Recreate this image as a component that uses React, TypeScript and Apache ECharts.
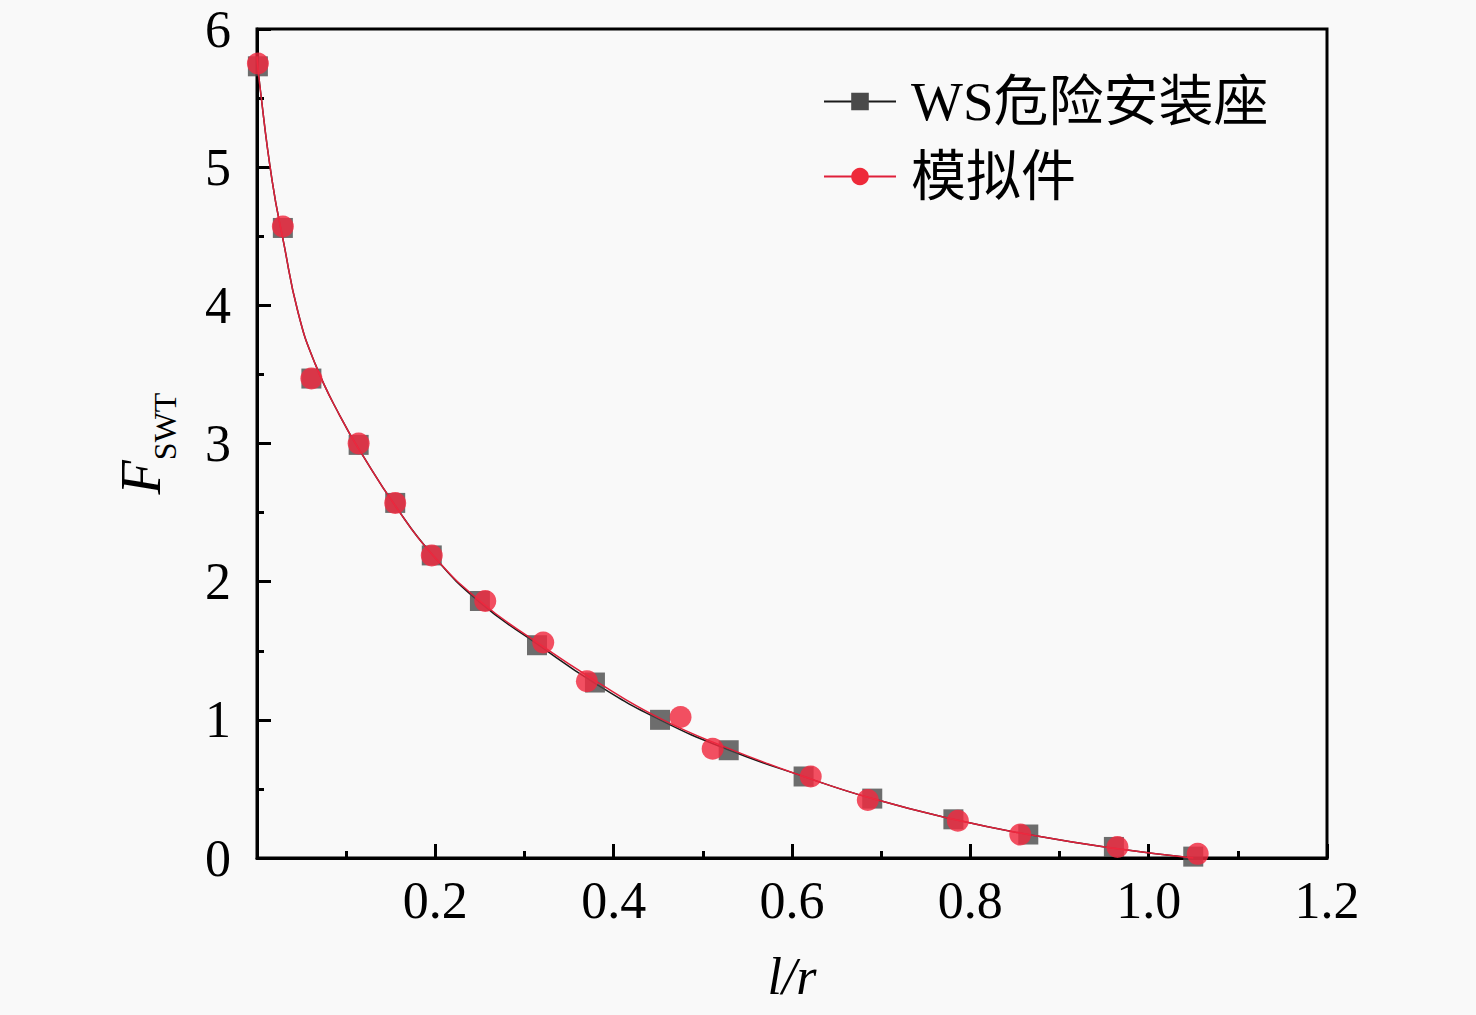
import React, { useEffect, useRef } from "react";
import * as echarts from "echarts";

const xTicks = [0, 0.2, 0.4, 0.6, 0.8, 1.0, 1.2];
const yTicks = [0, 1, 2, 3, 4, 5, 6];

// measured points
const wsX = [0.001, 0.029, 0.061, 0.114, 0.155, 0.196, 0.25, 0.314, 0.379, 0.452, 0.529, 0.613, 0.69, 0.781, 0.865, 0.961, 1.05];
const wsY = [5.73, 4.56, 3.47, 2.99, 2.57, 2.19, 1.86, 1.54, 1.27, 1.0, 0.78, 0.59, 0.43, 0.28, 0.17, 0.08, 0.01];

const simX = [0.001, 0.029, 0.061, 0.114, 0.155, 0.196, 0.256, 0.321, 0.37, 0.475, 0.511, 0.621, 0.685, 0.786, 0.856, 0.965, 1.055];
const simY = [5.75, 4.57, 3.47, 3.0, 2.57, 2.19, 1.86, 1.56, 1.28, 1.02, 0.79, 0.59, 0.42, 0.27, 0.17, 0.08, 0.03];

// fitted curves
const wsFitX = [0.0, 0.003, 0.017, 0.03, 0.046, 0.065, 0.093, 0.12, 0.155, 0.196, 0.25, 0.314, 0.38, 0.452, 0.53, 0.613, 0.69, 0.781, 0.865, 0.961, 1.05];
const wsFitY = [5.8, 5.6, 4.9, 4.45, 3.95, 3.58, 3.2, 2.9, 2.55, 2.2, 1.85, 1.55, 1.26, 1.0, 0.78, 0.59, 0.43, 0.28, 0.17, 0.07, 0.0];

const simFitX = [0.0, 0.003, 0.017, 0.03, 0.046, 0.065, 0.093, 0.12, 0.155, 0.196, 0.25, 0.314, 0.38, 0.452, 0.53, 0.613, 0.69, 0.781, 0.865, 0.961, 1.05];
const simFitY = [5.8, 5.6, 4.9, 4.45, 3.95, 3.58, 3.2, 2.9, 2.55, 2.2, 1.86, 1.56, 1.28, 1.01, 0.79, 0.59, 0.43, 0.28, 0.17, 0.07, 0.0];

const wsName = "WS危险安装座";
const simName = "模拟件";

const SERIF = "'Liberation Serif', 'Times New Roman', 'Noto Sans CJK SC', serif";

export default function App() {
  const ref = useRef<HTMLDivElement>(null);
  useEffect(() => {
    if (!ref.current) return;
    const chart = echarts.init(ref.current, null, { renderer: "svg" });
    const zip = (xs: number[], ys: number[]) => xs.map((x, i) => [x, ys[i]]);
    chart.setOption({
      animation: false,
      backgroundColor: "#f9f9f9",
      grid: {
        left: 257,
        top: 29,
        right: 149,
        bottom: 157,
        show: true,
        borderColor: "#000",
        borderWidth: 3,
        backgroundColor: "transparent",
        containLabel: false,
        outerBoundsMode: "none",
      },
      legend: {
        left: 823,
        top: 74,
        padding: 0,
        orient: "vertical",
        itemWidth: 72,
        itemHeight: 22,
        itemGap: 20,
        textStyle: { fontFamily: SERIF, fontSize: 55, color: "#000", padding: [0, 0, 0, 10] },
        data: [wsName, simName],
      },
      xAxis: {
        type: "value",
        min: xTicks[0],
        max: xTicks[xTicks.length - 1],
        interval: 0.2,
        name: "l/r",
        nameLocation: "middle",
        nameGap: 92,
        nameTextStyle: { fontFamily: SERIF, fontSize: 52, fontStyle: "italic", color: "#000" },
        axisLine: { show: true, onZero: false, lineStyle: { color: "#000", width: 3 } },
        axisTick: { show: true, inside: true, length: 14, lineStyle: { color: "#000", width: 3 } },
        minorTick: { show: true, splitNumber: 2, length: 7, lineStyle: { color: "#000", width: 3 } },
        splitLine: { show: false },
        axisLabel: {
          margin: 16,
          fontFamily: SERIF,
          fontSize: 52,
          color: "#000",
          formatter: (v: number) => (v === 0 ? "" : v.toFixed(1)),
        },
      },
      yAxis: {
        type: "value",
        min: yTicks[0],
        max: yTicks[yTicks.length - 1],
        interval: 1,
        name: "{f|F}{s|SWT}",
        nameLocation: "middle",
        nameGap: 88,
        nameRotate: 90,
        nameTextStyle: {
          rich: {
            f: { fontFamily: SERIF, fontSize: 56, fontStyle: "italic", color: "#000", verticalAlign: "bottom", lineHeight: 56 },
            s: { fontFamily: SERIF, fontSize: 32, color: "#000", verticalAlign: "bottom", lineHeight: 32, padding: [0, 0, -12, 0] },
          },
        },
        axisLine: { show: true, lineStyle: { color: "#000", width: 3 } },
        axisTick: { show: true, inside: true, length: 14, lineStyle: { color: "#000", width: 3 } },
        minorTick: { show: true, splitNumber: 2, length: 7, lineStyle: { color: "#000", width: 3 } },
        splitLine: { show: false },
        axisLabel: { margin: 26, fontFamily: SERIF, fontSize: 52, color: "#000" },
      },
      series: [
        {
          name: wsName,
          type: "line",
          smooth: 0.5,
          data: zip(wsFitX, wsFitY),
          showSymbol: false,
          symbol: "rect",
          symbolSize: 20,
          itemStyle: { color: "#4a4a4a" },
          lineStyle: { color: "#1a1a1a", width: 1.5 },
          z: 2,
        },
        {
          name: wsName,
          type: "scatter",
          data: zip(wsX, wsY),
          symbol: "rect",
          symbolSize: 20,
          itemStyle: { color: "#4a4a4a" },
          z: 2,
        },
        {
          name: simName,
          type: "line",
          smooth: 0.5,
          data: zip(simFitX, simFitY),
          showSymbol: false,
          symbol: "circle",
          symbolSize: 22,
          itemStyle: { color: "#ee2a3a" },
          lineStyle: { color: "#e0203a", width: 1.5 },
          z: 3,
        },
        {
          name: simName,
          type: "scatter",
          data: zip(simX, simY),
          symbol: "circle",
          symbolSize: 22,
          itemStyle: { color: "#f02a40", opacity: 0.82 },
          z: 4,
        },
      ],
    });
    return () => chart.dispose();
  }, []);
  return (
    <div
      ref={ref}
      style={{ position: "fixed", left: 0, top: 0, width: 1476, height: 1015 }}
    />
  );
}
